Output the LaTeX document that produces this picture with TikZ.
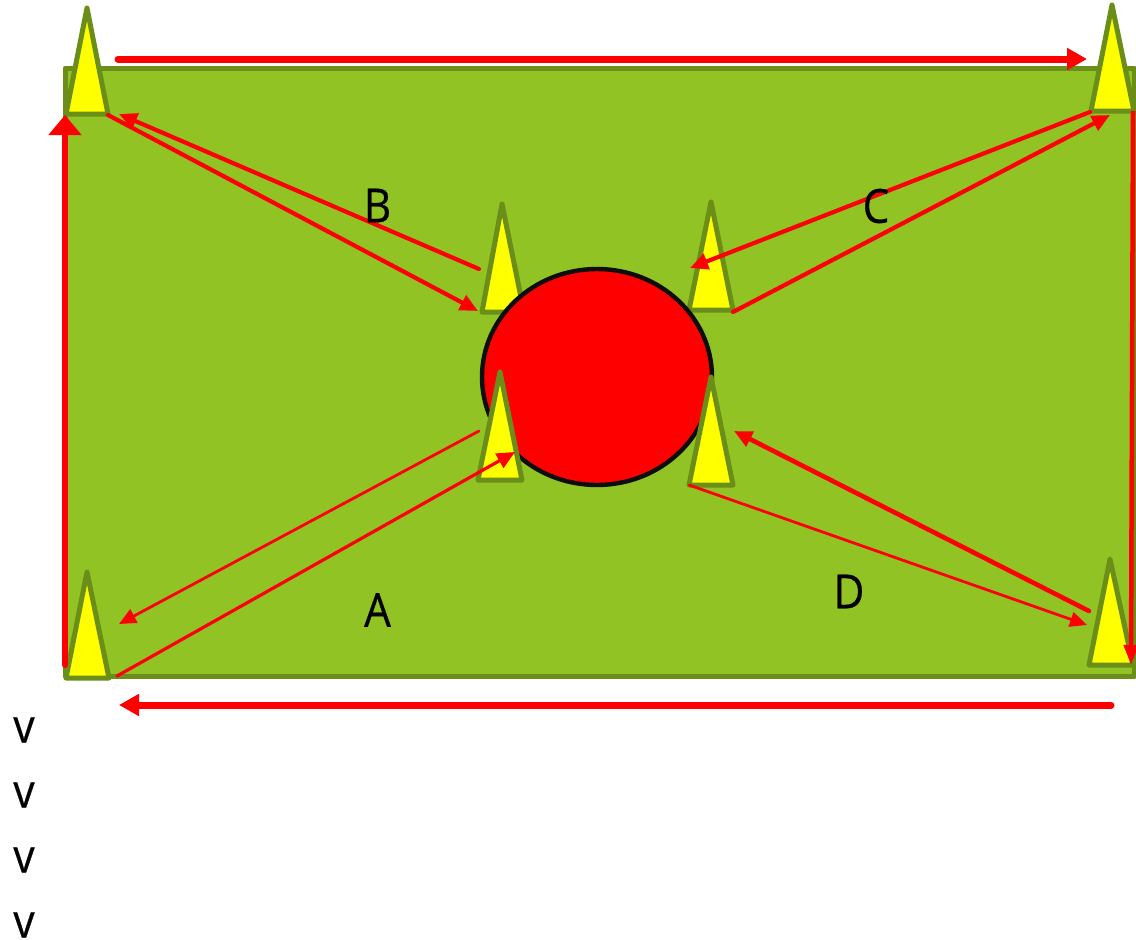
\documentclass[tikz,border=0pt]{standalone}
\usepackage{fontspec}
\setmainfont{Open Sans}[FakeStretch=0.9,RawFeature={embolden=0.5}]
\usetikzlibrary{arrows.meta}
\definecolor{fieldgreen}{RGB}{144,195,35}
\definecolor{edgegreen}{RGB}{107,142,24}
\definecolor{coneyellow}{RGB}{255,255,0}
\definecolor{arrowred}{RGB}{255,0,0}
\tikzset{
  cone/.style={draw=edgegreen,fill=coneyellow,line width=5pt,line join=round},
  field/.style={draw=edgegreen,fill=fieldgreen,line width=5pt,line join=round},
  ball/.style={draw=black!95,fill=arrowred,line width=4.4pt},
  lab/.style={font=\fontsize{47pt}{47pt}\selectfont,inner sep=0pt,text=black},
  bigarrow/.style={draw=arrowred,line width=7pt,line cap=round,-{Triangle[length=20pt,width=21pt]}},
  midarrow/.style={draw=arrowred,line width=4.2pt,line cap=round,-{Triangle[length=18pt,width=16pt]}},
  thinarrow/.style={draw=arrowred,line width=2.8pt,line cap=round,-{Triangle[length=17pt,width=15pt]}}
}
\begin{document}
\begin{tikzpicture}[x=1pt,y=-1pt]
\useasboundingbox (0,0) rectangle (1136,940);
\fill[white] (0,0) rectangle (1136,940);
% field
\draw[field] (65,68) rectangle (1134,676);
% corner cones
\draw[cone] (87,8) -- (66,114) -- (108,114) -- cycle;
\draw[cone] (1112,5) -- (1091,111) -- (1134,111) -- cycle;
\draw[cone] (87,572) -- (66,678) -- (109,678) -- cycle;
\draw[cone] (1110,559) -- (1089,665) -- (1133,665) -- cycle;
% centre cones behind the ball
\draw[cone] (502,204) -- (482,312) -- (524,312) -- cycle;
\draw[cone] (711,202) -- (689,310) -- (733,310) -- cycle;
% ball
\draw[ball] (597,377) ellipse [x radius=115, y radius=108];
% centre cones in front of the ball
\draw[cone] (500,372) -- (478,480) -- (522,480) -- cycle;
\draw[cone] (711,377) -- (689,485) -- (733,485) -- cycle;
% connector end points
\coordinate (topS) at (118,59);   \coordinate (topE) at (1087,59);
\coordinate (rightS) at (1133,111); \coordinate (rightE) at (1131,665);
\coordinate (botS) at (1111,705); \coordinate (botE) at (119,705);
\coordinate (leftS) at (65,665);  \coordinate (leftE) at (65,115);
\coordinate (b1S) at (479,269);   \coordinate (b1E) at (119,114);
\coordinate (b2S) at (108,115);   \coordinate (b2E) at (478,311);
\coordinate (c1S) at (1090,112);  \coordinate (c1E) at (690,268);
\coordinate (c2S) at (733,312);   \coordinate (c2E) at (1110,115);
\coordinate (a1S) at (479,431);   \coordinate (a1E) at (119,624);
\coordinate (a2S) at (117,676);   \coordinate (a2E) at (515,452);
\coordinate (d1S) at (689,485);   \coordinate (d1E) at (1087,625);
\coordinate (d2S) at (1089,611);  \coordinate (d2E) at (734,431);
% perimeter arrows
\draw[bigarrow] (topS) -- (topE);
\draw[bigarrow] (botS) -- (botE);
\draw[draw=arrowred,line width=6pt,line cap=round,-{Triangle[length=20pt,width=32pt]}] (leftS) -- (leftE);
\draw[draw=arrowred,line width=4.5pt,-{Triangle[length=20pt,width=14pt]}] (rightS) -- (rightE);
% diagonals
\draw[midarrow] (b1S) -- (b1E);
\draw[midarrow] (b2S) -- (b2E);
\draw[midarrow] (c1S) -- (c1E);
\draw[midarrow] (c2S) -- (c2E);
\draw[thinarrow] (a1S) -- (a1E);
\draw[midarrow,line width=3.2pt] (a2S) -- (a2E);
\draw[thinarrow] (d1S) -- (d1E);
\draw[midarrow,line width=4.6pt] (d2S) -- (d2E);
% labels
\node[lab] (labB) at (377.5,205.5) {B};
\node[lab] (labC) at (876,206) {C};
\node[lab] (labA) at (377.5,610) {A};
\node[lab] (labD) at (849,591.5) {D};
\node[lab] (v1) at (24,730) {v};
\node[lab] (v2) at (24,795) {v};
\node[lab] (v3) at (24,860) {v};
\node[lab] (v4) at (24,925) {v};
\end{tikzpicture}
\end{document}
